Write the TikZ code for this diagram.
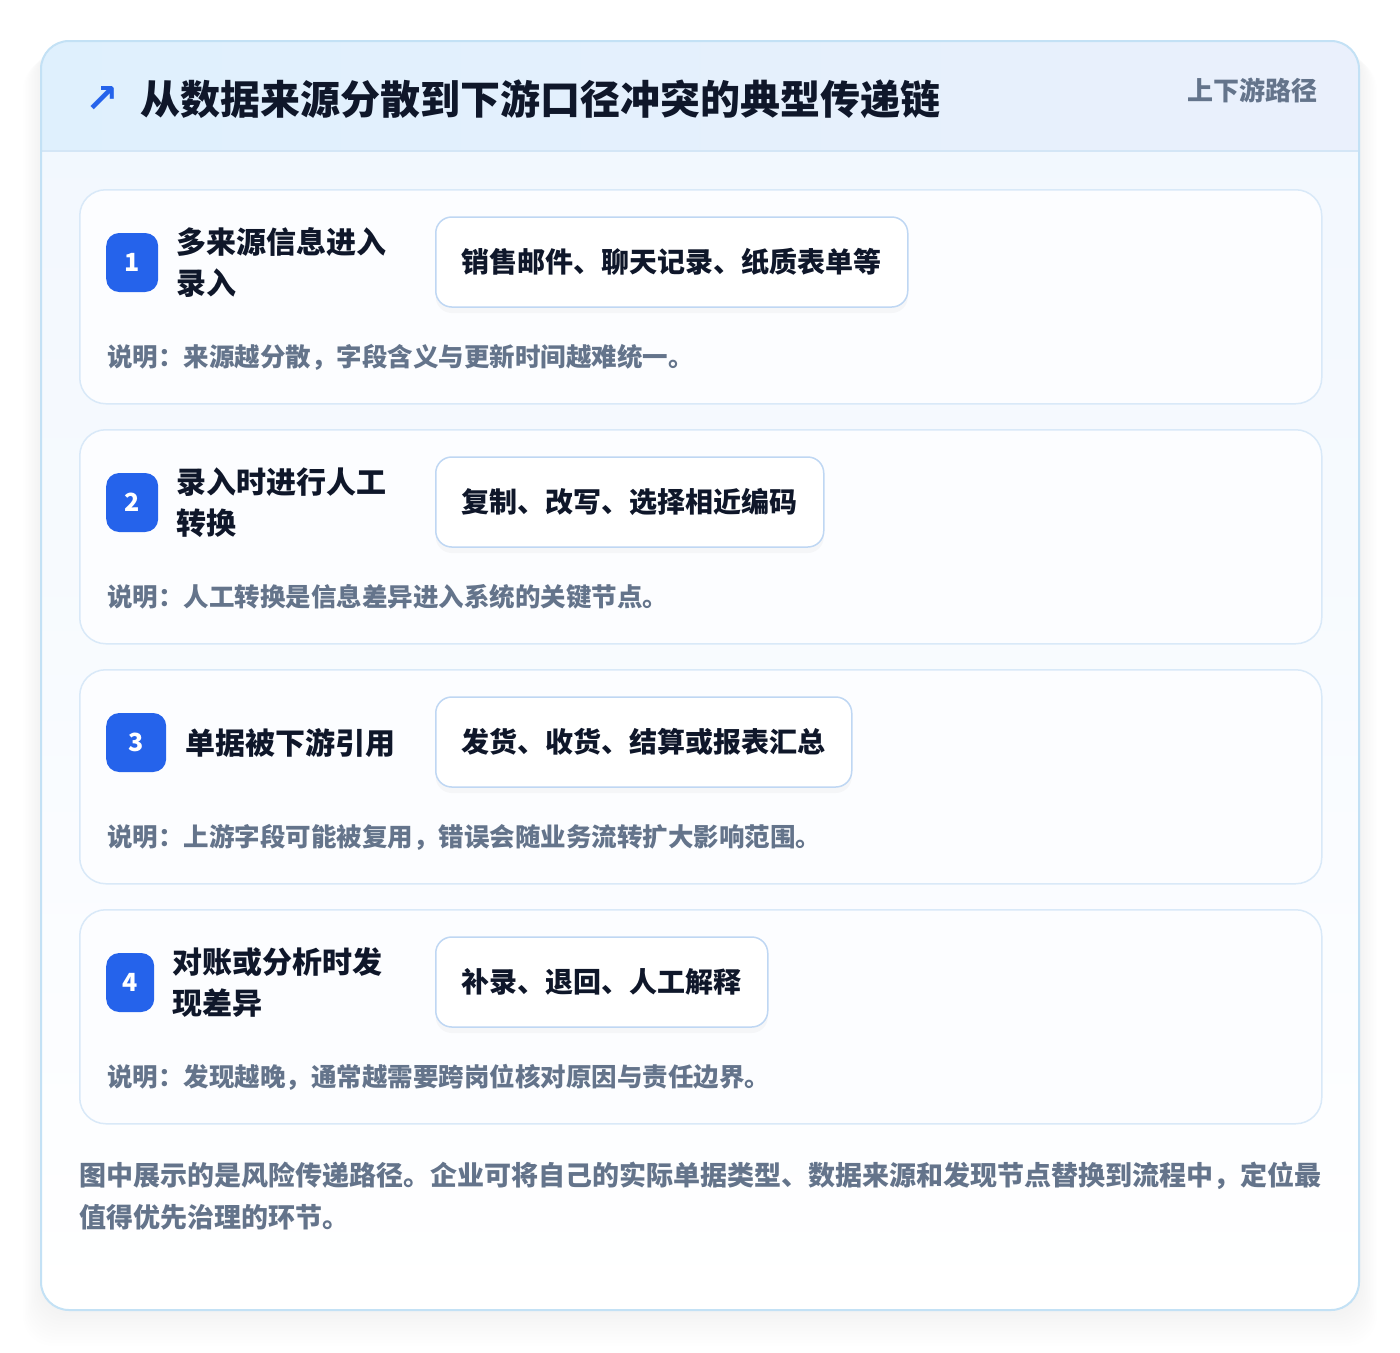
\documentclass[tikz,border=0pt]{standalone}
\usepackage{fontspec}
\setmainfont{Noto Sans CJK SC}
\newfontfamily\symfont{DejaVu Sans}
\usetikzlibrary{positioning, shadows}

\definecolor{ink}{HTML}{0F172A}
\definecolor{muted}{HTML}{64748B}
\definecolor{badgeblue}{HTML}{2563EB}
\definecolor{cardline}{HTML}{D9E9F8}
\definecolor{cardfill}{HTML}{FCFDFF}
\definecolor{chipline}{HTML}{BFD7F3}
\definecolor{outerline}{HTML}{C3E1F5}
\definecolor{headleft}{HTML}{DFF0FD}
\definecolor{headright}{HTML}{EAF0FC}
\definecolor{bodytop}{HTML}{F1F7FE}
\definecolor{headline}{HTML}{D4E6F6}

\begin{document}
\begin{tikzpicture}[x=1pt,y=-1pt,
  every node/.style={inner sep=0pt},
  card/.style={draw=cardline, line width=1.5pt, fill=cardfill, rounded corners=26pt,
    minimum width=1242pt, minimum height=214pt, anchor=north west},
  badge/.style={fill=badgeblue, text=white, rounded corners=13pt, minimum height=59pt,
    anchor=west, font=\fontsize{25}{25}\selectfont\bfseries},
  steptitle/.style={anchor=west, align=left, text=ink, font=\fontsize{30}{41}\selectfont\bfseries},
  chip/.style={draw=chipline, line width=1.5pt, fill=white, rounded corners=16pt,
    minimum height=90pt, inner xsep=26pt, anchor=west, text=ink,
    font=\fontsize{28}{28}\selectfont\bfseries,
    drop shadow={opacity=0.05, shadow xshift=0pt, shadow yshift=-6pt}},
  note/.style={anchor=west, text=muted, font=\fontsize{25.5}{25.5}\selectfont\bfseries}]

  \useasboundingbox[fill=white] (0,0) rectangle (1400,1352);

  % soft shadow under the panel
  \foreach \k in {1,...,12}
    \fill[black, opacity=0.005, rounded corners=30pt]
      (41-1.5*\k,41+1.5*\k) rectangle (1359+1.5*\k,1310+3*\k);

  % panel and header band
  \fill[top color=bodytop, bottom color=white, rounded corners=28pt] (41,41) rectangle (1359,1310);
  \begin{scope}
    \clip[rounded corners=28pt] (41,41) rectangle (1359,1310);
    \fill[left color=headleft, right color=headright] (41,41) rectangle (1359,151);
  \end{scope}
  \draw[headline, line width=1.5pt] (41,151) -- (1359,151);
  \draw[outerline, line width=2pt, rounded corners=28pt] (41,41) rectangle (1359,1310);

  \node[text=badgeblue, font={\symfont\bfseries\fontsize{40}{40}\selectfont}] (icon) at (102,99) {↗};
  \node[anchor=west, text=ink, font=\fontsize{40}{40}\selectfont\bfseries] (title) at (140,99)
    {从数据来源分散到下游口径冲突的典型传递链};
  \node[anchor=east, text=muted, font=\fontsize{26}{26}\selectfont\bfseries] (tag) at (1318,90)
    {上下游路径};

  % the four steps
  \foreach \i/\top/\bw/\tx/\ttl/\chiptext/\notetext in {
    1/189/52/176/{多来源信息进入\\录入}/{销售邮件、聊天记录、纸质表单等}/{说明：来源越分散，字段含义与更新时间越难统一。},
    2/429/52/176/{录入时进行人工\\转换}/{复制、改写、选择相近编码}/{说明：人工转换是信息差异进入系统的关键节点。},
    3/669/60/185/{单据被下游引用}/{发货、收货、结算或报表汇总}/{说明：上游字段可能被复用，错误会随业务流转扩大影响范围。},
    4/909/48/172/{对账或分析时发\\现差异}/{补录、退回、人工解释}/{说明：发现越晚，通常越需要跨岗位核对原因与责任边界。}} {
    \node[card] (card\i) at (79,\top) {};
    \node[badge, minimum width=\bw pt] (badge\i) at (106,\top+73.5) {\i};
    \node[steptitle] (step\i) at (\tx,\top+73.5) {\ttl};
    \node[chip] (chip\i) at (435,\top+73) {\chiptext};
    \node[note] (note\i) at (107,\top+168) {\notetext};
  }

  \node[anchor=west, align=left, text=muted, font=\fontsize{27}{42}\selectfont\bfseries] (footer) at (79,1196)
    {图中展示的是风险传递路径。企业可将自己的实际单据类型、数据来源和发现节点替换到流程中，定位最\\
     值得优先治理的环节。};
\end{tikzpicture}
\end{document}
